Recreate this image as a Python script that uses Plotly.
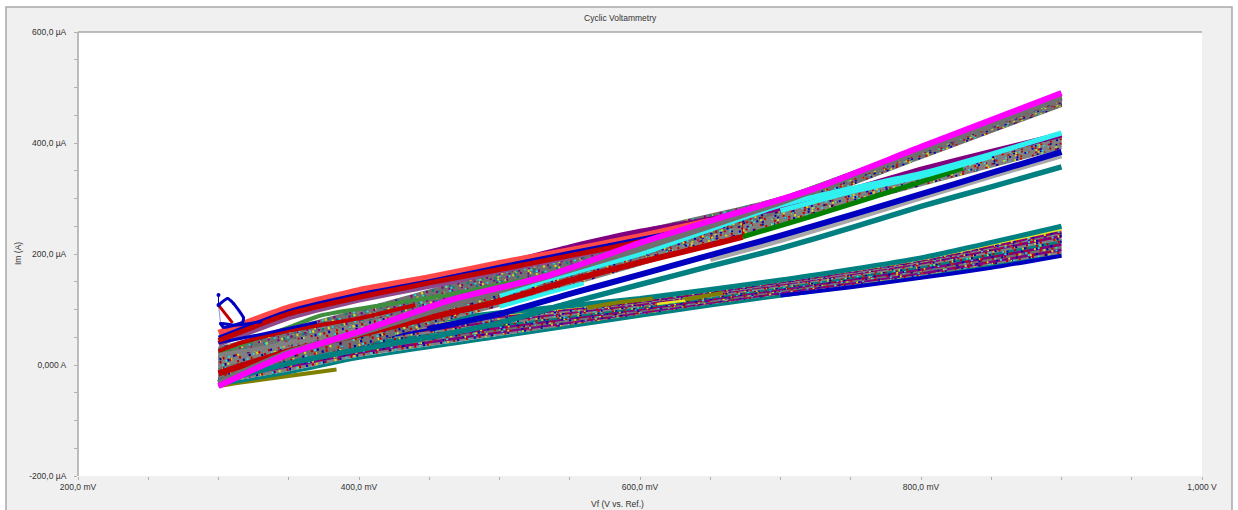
import plotly.graph_objects as go

# ---------- data (mV, uA) ----------
V = [300, 350, 400, 500, 600, 700, 800, 900]

# lower band (forward scans), bottom to top
low_a = [-30, -8, 18, 56, 92, 128, 162, 203]
low_b = [-25, -2, 23, 60, 95, 131, 166, 208]
low_c = [-20, 4, 28, 64, 98, 134, 170, 213]
low_d = [-14, 10, 33, 68, 101, 137, 173, 218]
low_e = [-8, 16, 38, 72, 104, 140, 177, 223]
low_f = [-2, 22, 43, 76, 107, 143, 181, 228]
low_g = [4, 28, 48, 80, 110, 146, 184, 233]
low_h = [10, 34, 53, 84, 113, 148, 187, 238]
low_i = [15, 39, 57, 88, 115, 150, 189, 241]
low_yellow = [18, 42, 60, 90, 117, 151, 190, 244]
low_teal_top = [22, 46, 64, 94, 120, 153, 193, 250]
low_teal_bottom = [-36, -14, 12, 50, 88, 124, 158, 198]
low_blue_V = [700, 750, 800, 850, 900]
low_blue = [125, 140, 157, 175, 197]
olive_a_V = [562, 585, 609]
olive_a = [103, 113, 120]
olive_b_V = [630, 645, 659]
olive_b = [117, 124, 130]
yellow_a_V = [612, 622, 632]
yellow_a = [110, 113, 116]
olive_start_V = [300, 317, 384]
olive_start = [-38, -31, -8]

# middle band, dotted
mid_a = [-20, 12, 42, 108, 182, 258, 325, 392]
mid_b = [-14, 18, 48, 112, 186, 263, 329, 396]
mid_c = [-8, 24, 54, 116, 190, 268, 333, 400]
mid_d = [-2, 30, 60, 120, 194, 272, 338, 404]
mid_e = [4, 36, 66, 125, 199, 277, 342, 408]
mid_f = [10, 42, 72, 130, 204, 282, 346, 412]

# upper band, dotted
up_a = [-32, 2, 36, 116, 196, 278, 374, 468]
up_b = [-27, 8, 42, 121, 201, 282, 378, 471]
up_c = [-21, 14, 48, 126, 206, 286, 382, 474]
up_d = [-15, 20, 54, 131, 210, 290, 385, 477]
up_e = [-9, 26, 60, 136, 214, 295, 388, 480]

# fan between green and magenta at the left
fan_a = [-3, 32, 62, 140, 212, 285, 380, 470]
fan_b = [3, 38, 68, 145, 217, 289, 384, 474]
fan_c = [9, 44, 74, 150, 222, 293, 388, 478]
fan_d = [15, 50, 80, 155, 227, 297, 390, 482]
fan_e = [21, 56, 86, 160, 232, 299, 392, 482]
fan_f = [27, 60, 92, 164, 236, 300, 392, 484]
fan_g = [30, 64, 98, 168, 240, 300, 392, 484]

# solid curves
gray_top = [-33, 22, 58, 135, 210, 294, 388, 483]
magenta_V = [300, 350, 400, 465, 536, 600, 657, 721, 800, 900]
magenta = [-38, 20, 60, 117, 162, 220, 265, 315, 393, 490]
cyan_left_V = [300, 350, 400, 450, 500]
cyan_left = [-18, 18, 50, 85, 125]
cyan_V = [500, 536, 600, 655, 700, 750, 800, 850, 900]
cyan = [125, 155, 200, 249, 288, 318, 345, 380, 418]
cyan_low_V = [500, 536, 560]
cyan_low = [105, 131, 147]
cyan_wide_V = [700, 750, 800, 850]
cyan_wide = [278, 312, 340, 376]
red_mid_V = [300, 350, 400, 450, 500, 550, 600, 650, 673]
red_mid = [-15, 25, 55, 85, 115, 152, 185, 216, 231]
green_V = [673, 721, 800, 830]
green = [231, 267, 330, 355]
spike_V = [673, 673]
spike = [231, 258]
blue_left_V = [300, 350, 400, 450]
blue_left = [-25, 10, 40, 65]
blue_V = [450, 500, 550, 600, 650, 700, 750, 800, 850, 900]
blue = [65, 92, 128, 163, 198, 233, 270, 308, 346, 384]
gray_V = [650, 700, 750, 800, 850, 900]
gray = [190, 224, 262, 301, 340, 377]
teal_V = [300, 350, 400, 450, 500, 550, 600, 650, 700, 750, 800, 850, 900]
teal = [-30, 3, 28, 50, 76, 112, 145, 178, 210, 247, 286, 321, 357]
purple_V = [500, 550, 600, 650, 700, 750, 800, 850, 900]
purple = [180, 212, 240, 262, 283, 315, 352, 384, 415]
salmon_V = [300, 350, 400, 450, 500, 550, 600, 650]
salmon = [58, 104, 135, 158, 184, 207, 232, 260]
darkred = [44, 92, 122, 148, 172, 197, 222, 252]
blue_up_V = [300, 350, 400, 450, 500, 550, 600, 640]
blue_up = [50, 98, 128, 152, 178, 203, 228, 248]
mauve_V = [300, 350, 400, 465, 500, 550, 600, 650]
mauve = [38, 86, 118, 150, 170, 195, 222, 250]
green2_V = [300, 350, 374, 465, 520]
green2 = [22, 68, 90, 127, 155]
red3_V = [300, 317, 350, 400, 440]
red3 = [25, 41, 62, 84, 108]
blue_low2_V = [300, 330, 370]
blue_low2 = [40, 55, 77]
blue_low3_V = [300, 330, 370]
blue_low3 = [18, 30, 48]

loop_V = [300, 306.4, 310.7, 317.8, 317.1, 303.6, 301.4, 312, 330]
loop_I = [108, 120, 111, 85, 77, 68, 75, 72, 78]
start_V = [300, 300]
start_I = [126, 108]
red_loop_V = [300, 310]
red_loop_I = [108, 76]
light_loop_V = [300, 301.5]
light_loop_I = [108, 75]

# ticks
x_ticks = [200, 250, 300, 350, 400, 450, 500, 550, 600, 650, 700, 750, 800, 850, 900, 950, 1000]
x_labels = ["200,0 mV", "", "", "", "400,0 mV", "", "", "", "600,0 mV", "", "", "", "800,0 mV", "", "", "", "1,000 V"]
y_ticks = [-200, -150, -100, -50, 0, 50, 100, 150, 200, 250, 300, 350, 400, 450, 500, 550, 600]
y_labels = ["-200,0 µA", "", "", "", "0,000 A", "", "", "", "200,0 µA", "", "", "", "400,0 µA", "", "", "", "600,0 µA"]

fig = go.Figure()


def add(x, y, color, width=3, dash="solid", mode="lines", size=4):
    fig.add_trace(go.Scatter(x=x, y=y, mode=mode, showlegend=False, hoverinfo="skip",
                             line=dict(color=color, width=width, dash=dash, shape="spline", smoothing=0.5),
                             marker=dict(color=color, size=size)))


phase = [0]


def dotted(y, base, a="#d8d820", b="#c00000", c="#0000b0", d="#30d8d8"):
    # each series starts its dots at a different phase so that stripes do not line up
    phase[0] += 1
    k = phase[0] * 3
    add(V, y, base, 3.5)
    add(V, y, a, 2.5, f"0px,{k % 13 + 1}px,2px,13px")
    add(V, y, b, 2.5, f"0px,{k % 7 + 1}px,2px,7px")
    add(V, y, c, 2.5, f"0px,{k % 11 + 1}px,2px,11px")
    add(V, y, d, 2, f"0px,{k % 19 + 1}px,2px,19px")


add(olive_start_V, olive_start, "#808000", 4)
for s, base in zip([low_a, low_b, low_c, low_d, low_e, low_f, low_g, low_h, low_i],
                   ["#808080", "#800080", "#707070", "#800080", "#008080", "#808080", "#800080", "#808080", "#800080"]):
    dotted(s, base)
add(V, low_yellow, "#e8e820", 2)
add(V, low_teal_top, "#008080", 5)
add(V, low_teal_bottom, "#008080", 3)
add(low_blue_V, low_blue, "#0000c0", 4)
add(olive_a_V, olive_a, "#808000", 4)
add(olive_b_V, olive_b, "#808000", 4)
add(yellow_a_V, yellow_a, "#e8e820", 2.5)

add(cyan_left_V, cyan_left, "#30f0f0", 2)
add(blue_left_V, blue_left, "#0000c0", 2)
for s in [fan_a, fan_b, fan_c, fan_d, fan_e, fan_f, fan_g]:
    dotted(s, "#707070", "#d8d820", "#800080", "#008080", "#30d8d8")
for s in [mid_a, mid_b, mid_c, mid_d, mid_e, mid_f]:
    dotted(s, "#808080")
for s in [up_a, up_b, up_c, up_d, up_e]:
    dotted(s, "#707070")

add(mauve_V, mauve, "#8b4a8b", 6)
add(green2_V, green2, "#3f8f3f", 4)
add(red3_V, red3, "#c00000", 4)
add(blue_low2_V, blue_low2, "#0000c0", 3)
add(blue_low3_V, blue_low3, "#808080", 4)
add(purple_V, purple, "#800080", 6)
add(salmon_V, salmon, "#ff4848", 6)
add(blue_up_V, blue_up, "#0000c0", 3)
add(salmon_V, darkred, "#c00000", 5)
add(gray_V, gray, "#a8a8a8", 5)
add(teal_V, teal, "#008080", 5.5)
add(cyan_low_V, cyan_low, "#30f0f0", 4)
add(blue_V, blue, "#0000c0", 6)
add(red_mid_V, red_mid, "#c00000", 6)
add(green_V, green, "#008000", 5)
add(spike_V, spike, "#c00000", 1)
add(cyan_V, cyan, "#30f0f0", 5)
add(cyan_wide_V, cyan_wide, "#30f0f0", 5)
add(V, gray_top, "#707070", 7)
add(magenta_V, magenta, "#ff00ff", 6)
add(light_loop_V, light_loop_I, "#9090e0", 1)
add(red_loop_V, red_loop_I, "#c00000", 3)
add(start_V, start_I, "#0000c0", 1, mode="lines+markers", size=4)
add(loop_V, loop_I, "#0000c0", 3, mode="lines+markers", size=3)

font_col = "#333333"
axis_common = dict(showgrid=False, zeroline=False, ticks="outside", ticklen=3, tickwidth=1,
                   tickcolor="#b0b0b0", tickfont=dict(family="Liberation Sans", size=8.5, color=font_col),
                   tickmode="array", showline=False)

fig.update_layout(
    width=1238, height=510, autosize=False,
    margin=dict(l=78, r=36, t=32, b=34),
    paper_bgcolor="white", plot_bgcolor="white",
    xaxis=dict(range=[200, 1000], tickvals=x_ticks, ticktext=x_labels, **axis_common),
    yaxis=dict(range=[-200, 600], tickvals=y_ticks, ticktext=y_labels, ticklabelstandoff=6, **axis_common),
    shapes=[
        dict(type="rect", xref="paper", yref="paper", x0=-72 / 1124, x1=1154 / 1124, y0=-0.1, y1=1 + 25 / 444,
             fillcolor="#f0f0f0", line=dict(color="#a8a8a8", width=1.5), layer="below"),
        dict(type="rect", xref="paper", yref="paper", x0=0, x1=1, y0=0, y1=1,
             fillcolor="white", line=dict(width=0), layer="below"),
        dict(type="line", xref="paper", yref="paper", x0=0, x1=0, y0=0, y1=1,
             line=dict(color="#a8a8a8", width=1.5), layer="below"),
        dict(type="line", xref="paper", yref="paper", x0=0, x1=1, y0=1, y1=1,
             line=dict(color="#a8a8a8", width=1.5), layer="below"),
    ],
    annotations=[
        dict(text="Cyclic Voltammetry", xref="paper", yref="paper", x=(620 - 78) / 1124, y=1 + 14 / 444,
             yanchor="middle", xanchor="center", showarrow=False,
             font=dict(family="Liberation Sans", size=8.5, color=font_col)),
        dict(text="Vf (V vs. Ref.)", xref="paper", yref="paper", x=(617 - 78) / 1124, y=-28 / 444,
             yanchor="middle", xanchor="center", showarrow=False,
             font=dict(family="Liberation Sans", size=8.5, color=font_col)),
        dict(text="Im (A)", xref="paper", yref="paper", x=(18 - 78) / 1124, y=222 / 444, textangle=-90,
             yanchor="middle", xanchor="center", showarrow=False,
             font=dict(family="Liberation Sans", size=8.5, color=font_col)),
    ],
)

fig.write_html("out.html", config={"displayModeBar": False},
               post_script="document.body.style.margin='0';")
